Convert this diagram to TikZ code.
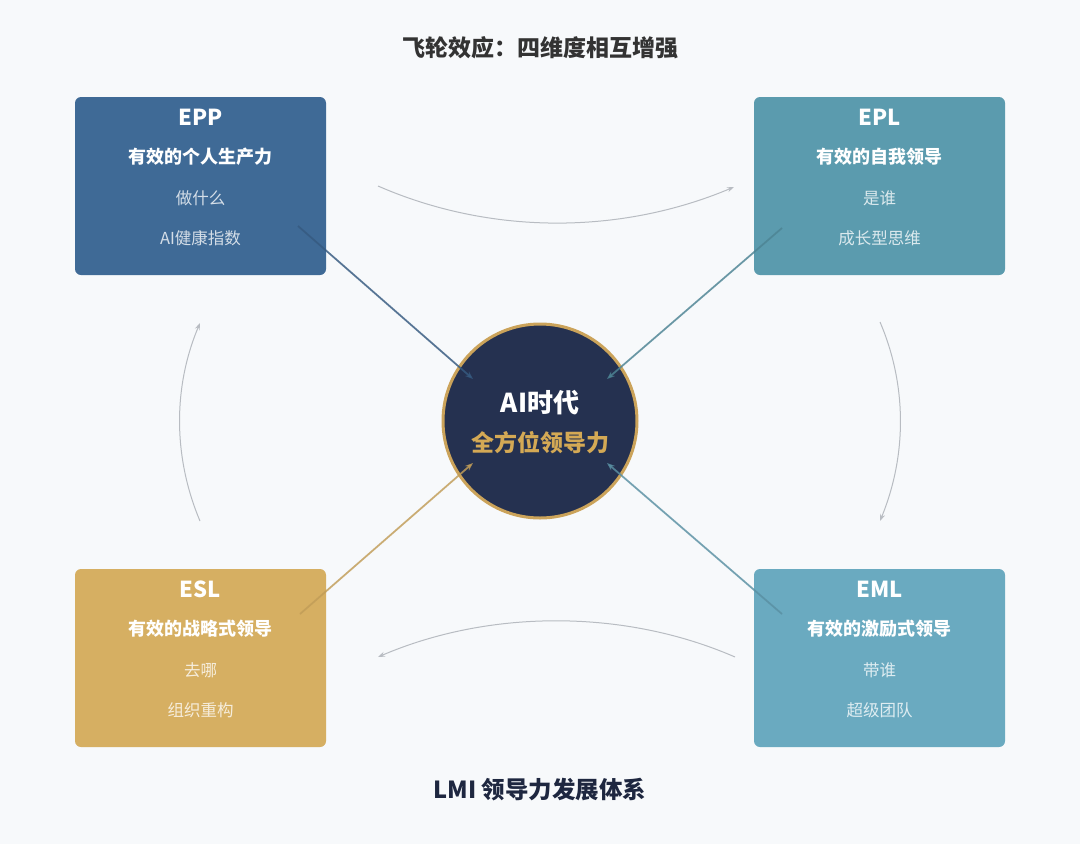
\documentclass[tikz,border=0pt]{standalone}
\usepackage{fontspec}
\setmainfont{Noto Sans CJK SC}
\usetikzlibrary{arrows.meta}
\definecolor{bg}{HTML}{F7F9FB}
\definecolor{cepp}{HTML}{3F6A96}
\definecolor{cepl}{HTML}{5B9BAE}
\definecolor{cesl}{HTML}{D6AF62}
\definecolor{ceml}{HTML}{6AAAC0}
\definecolor{navy}{HTML}{253150}
\definecolor{gold}{HTML}{CBA35A}
\definecolor{goldtxt}{HTML}{D4A955}
\definecolor{titlec}{HTML}{333333}
\definecolor{bottomc}{HTML}{1E2740}
\definecolor{flow}{HTML}{B8BCC2}
\tikzset{
  card/.style={rounded corners=6pt, minimum width=251pt, minimum height=178pt, inner sep=0pt},
  cardtitle/.style={text=white, font=\fontsize{22}{26}\selectfont\bfseries},
  cardsub/.style={text=white, font=\fontsize{18}{22}\selectfont\bfseries},
  cardline/.style={text=white, text opacity=0.78, font=\fontsize{16.5}{20}\selectfont},
  flowarrow/.style={draw=flow, line width=1pt, -{Stealth[length=7pt,width=5pt]}},
  spoke/.style={line width=1.8pt, -{Stealth[length=8pt,width=6pt]}, draw opacity=0.8, fill opacity=0.8},
}
\begin{document}
\begin{tikzpicture}[x=1pt,y=-1pt]
\fill[bg] (0,0) rectangle (1080,844);
\useasboundingbox (0,0) rectangle (1080,844);

% titles
\node[text=titlec, font=\fontsize{23}{26}\selectfont\bfseries] (title) at (540,48) {飞轮效应：四维度相互增强};
\node[text=bottomc, font=\fontsize{23.5}{26}\selectfont\bfseries] (bottom) at (540,790) {LMI 领导力发展体系};

% cards
\node[card, fill=cepp] (epp) at (200.5,186) {};
\node[cardtitle] (epp1) at (200.5,117) {EPP};
\node[cardsub] (epp2) at (200.5,157) {有效的个人生产力};
\node[cardline] (epp3) at (200.5,198) {做什么};
\node[cardline] (epp4) at (200.5,238) {AI健康指数};

\node[card, fill=cepl] (epl) at (879.5,186) {};
\node[cardtitle] (epl1) at (879.5,117) {EPL};
\node[cardsub] (epl2) at (879.5,157) {有效的自我领导};
\node[cardline] (epl3) at (879.5,198) {是谁};
\node[cardline] (epl4) at (879.5,238) {成长型思维};

\node[card, fill=cesl] (esl) at (200.5,658) {};
\node[cardtitle] (esl1) at (200.5,589) {ESL};
\node[cardsub] (esl2) at (200.5,629) {有效的战略式领导};
\node[cardline] (esl3) at (200.5,670) {去哪};
\node[cardline] (esl4) at (200.5,710) {组织重构};

\node[card, fill=ceml] (eml) at (879.5,658) {};
\node[cardtitle] (eml1) at (879.5,589) {EML};
\node[cardsub] (eml2) at (879.5,629) {有效的激励式领导};
\node[cardline] (eml3) at (879.5,670) {带谁};
\node[cardline] (eml4) at (879.5,710) {超级团队};

% center circle
\node[circle, fill=navy, draw=gold, line width=3pt, minimum size=194pt, inner sep=0pt] (core) at (540,421) {};
\node[text=white, font=\fontsize{26}{30}\selectfont\bfseries] (core1) at (540,403) {AI时代};
\node[text=goldtxt, font=\fontsize{23}{26}\selectfont\bfseries] (core2) at (540,443) {全方位领导力};

% flywheel arrows
\coordinate (t1) at (378,186); \coordinate (t2) at (734,187);
\coordinate (r1) at (880,322); \coordinate (r2) at (880,521);
\coordinate (b1) at (735,657); \coordinate (b2) at (378,657);
\coordinate (l1) at (200,521); \coordinate (l2) at (200,323);
\draw[flowarrow] (t1) .. controls (490,235) and (620,235) .. (t2);
\draw[flowarrow] (r1) .. controls (907,385) and (907,455) .. (r2);
\draw[flowarrow] (b1) .. controls (625,609) and (490,609) .. (b2);
\draw[flowarrow] (l1) .. controls (173,457) and (173,387) .. (l2);

% spokes
\coordinate (s1) at (298,226); \coordinate (e1) at (473,379);
\coordinate (s2) at (782,228); \coordinate (e2) at (607,379);
\coordinate (s3) at (300,614); \coordinate (e3) at (473,463);
\coordinate (s4) at (782,614); \coordinate (e4) at (607,463);
\draw[spoke, draw=cepp!85!black, fill=cepp!85!black] (s1) -- (e1);
\draw[spoke, draw=cepl!85!black, fill=cepl!85!black] (s2) -- (e2);
\draw[spoke, draw=cesl!90!black, fill=cesl!90!black] (s3) -- (e3);
\draw[spoke, draw=ceml!85!black, fill=ceml!85!black] (s4) -- (e4);
\end{tikzpicture}
\end{document}
